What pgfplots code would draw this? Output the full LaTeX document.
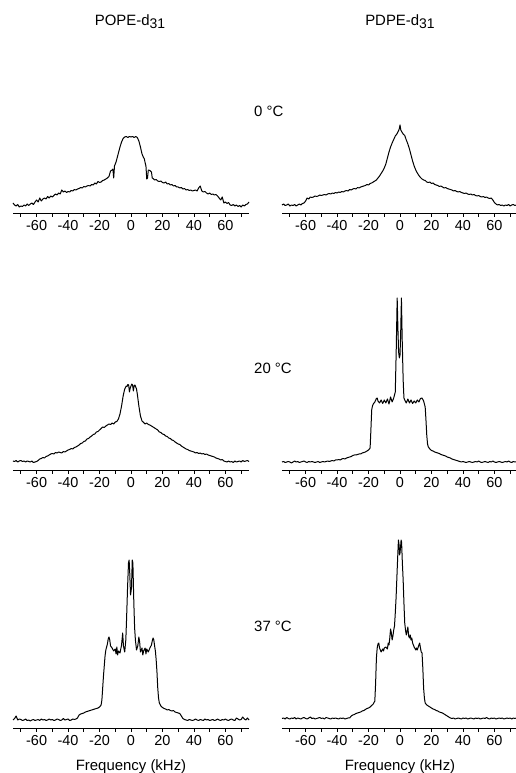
\documentclass[border=0pt]{standalone}
\usepackage{fontspec}
\setmainfont{Liberation Sans}
\usepackage{pgfplots}
\pgfplotsset{compat=1.18}
\pgfplotsset{
 spec/.style={
  scale only axis, width=236bp, height=200bp,
  xmin=-75, xmax=75, ymin=0, ymax=200,
  axis x line=bottom, axis y line=none,
  axis line style={-, line width=0.9bp, black},
  xtick={-60,-40,-20,0,20,40,60},
  xticklabels={-60,-40,-20,0,20,40,60},
  minor xtick={-70,-50,-30,-10,10,30,50,70},
  tick align=outside, major tick length=4bp, minor tick length=4bp,
  tick style={line width=0.8bp, black},
  xticklabel style={font=\fontsize{14.5}{17}\selectfont},
  clip=false, anchor=south west,
 },
 sp/.style={black, line width=1bp, no marks, line join=round},
}
\begin{document}
\begin{tikzpicture}
\path[use as bounding box] (0,0) rectangle (516bp,773bp);
% POPE 0 C
\begin{axis}[spec, at={(13bp,560bp)}]
\addplot[sp] coordinates {(-75,10)(-74,8)(-73,7)(-72,8.5)(-71,6)(-70,7)(-69,6.5)(-68,8)(-67,7)(-66,9)(-65,7.5)(-64,9)(-63,10)(-62,8.5)(-61,11)(-60,13)(-59,11)(-58,15)(-57,12)(-56,14)(-55,15)(-54,14)(-53,16.5)(-52,15)(-51,17)(-50,16)(-49,17.5)(-48,19)(-47,18)(-46,20)(-45,19)(-44,23)(-43,21)(-42,22)(-41,20.5)(-40,21.5)(-39,21)(-38,22.5)(-37,22)(-36,23.5)(-35,23)(-34,24)(-33,24.5)(-32,25.5)(-31,25)(-30,26.5)(-29,26)(-28,27)(-27,27.5)(-26,27)(-25,28.5)(-24,28)(-23,30)(-22,29)(-21,31.5)(-20,30.5)(-19,31)(-18,32.5)(-17,33)(-16,34)(-15,35)(-14,36.5)(-13,42)(-12,43)(-11.5,44)(-11,35)(-10.5,47)(-10,49)(-9.5,51)(-9,54)(-8.5,57)(-8,60)(-7,66)(-6,71)(-5,74.5)(-4,76)(-3,76.5)(-2,75.5)(-1,76.5)(0,76)(1,76.5)(2,75.5)(3,76.5)(4,75.5)(5,72)(6,66)(7,59)(7.8,56)(8.5,54)(9,50)(9.5,47)(10,34)(10.5,35)(11,43)(12,42.5)(13,41)(13.5,35)(14,34.5)(15,33)(16,33.5)(17,32)(18,31.5)(19,32)(20,30.5)(21,30)(22,31)(23,29)(24,29.5)(25,28)(26,28.5)(27,27)(28,27.5)(29,26)(30,26)(31,25)(32,25.5)(33,24)(34,24.5)(35,23)(36,23.5)(37,22.5)(38,23)(39,22)(40,22.5)(41,23)(42,22)(43,25)(44,27)(45,22)(46,21)(47,21.5)(48,20)(49,19)(50,20)(51,18.5)(52,19)(53,18)(54,18.5)(55,17)(56,15)(57,13)(58,16)(59,10)(60,11)(61,9.5)(62,10.5)(63,8)(64,7.5)(65,8.5)(66,7)(67,8)(68,6.5)(69,7.5)(70,6)(71,8)(72,7)(73,8.5)(74,9)(75,11)};
\end{axis}
% PDPE 0 C
\begin{axis}[spec, at={(282bp,560bp)}]
\addplot[sp] coordinates {(-75,8)(-74,9)(-73,7.5)(-72,8)(-71,9)(-70,7)(-69,8)(-68,7.5)(-67,8.5)(-66,7)(-65,8)(-64,9)(-63,8)(-62,9.5)(-61,10)(-60,12)(-59,15)(-58,14)(-57,16)(-56,15.5)(-55,16)(-54,17)(-53,16.5)(-52,17)(-51,18)(-50,17.5)(-49,18)(-48,18.5)(-47,18)(-46,19)(-45,19.5)(-44,19)(-43,20)(-42,19.5)(-41,20.5)(-40,20)(-39,21)(-38,20.5)(-37,21.5)(-36,21)(-35,22)(-34,22.5)(-33,22)(-32,23.5)(-31,23)(-30,24)(-29,24.5)(-28,24)(-27,25.5)(-26,25)(-25,26)(-24,26.5)(-23,27)(-22,27.5)(-21,28.5)(-20,28)(-19,29.5)(-18,30)(-17,31)(-16,32)(-15,33)(-14,35)(-13,37)(-12,39.5)(-11,42)(-10,45)(-9,49)(-8,55)(-7,61)(-6,66)(-5,70)(-4,73.5)(-3,77)(-2,79)(-1,82)(-0.5,84)(0,88)(0.5,83)(1,81.5)(2,79)(3,77.5)(4,73)(5,69)(6,64)(7,58)(8,52)(9,47)(10,43)(11,40)(12,37.5)(13,35.5)(14,34)(15,33)(16,32.5)(17,31)(18,30.5)(19,31)(20,29.5)(21,30)(22,28.5)(23,28)(24,27.5)(25,26.5)(26,27)(27,26)(28,25)(29,25.5)(30,24.5)(31,24)(32,23.5)(33,23)(34,22)(35,22.5)(36,21.5)(37,21)(38,21.5)(39,20.5)(40,20)(41,19.5)(42,20)(43,19)(44,18.5)(45,19)(46,18)(47,18.5)(48,17.5)(49,17)(50,17.5)(51,16.5)(52,16)(53,16.5)(54,15.5)(55,16)(56,15)(57,14.5)(58,15)(59,13)(60,10.5)(61,9)(62,8)(63,8.5)(64,7.5)(65,8)(66,7)(67,8)(68,7.5)(69,8.5)(70,7)(71,8)(72,8.5)(73,7.5)(74,8)(75,8)};
\end{axis}
% POPE 20 C
\begin{axis}[spec, at={(13bp,303bp)}]
\addplot[sp] coordinates {(-75,9)(-74,8.5)(-73,9.5)(-72,8)(-71,9)(-70,9.5)(-69,8.5)(-68,9)(-67,8)(-66,9)(-65,8.5)(-64,8)(-63,9)(-62,7.5)(-61,8)(-60,8.5)(-59,9.5)(-58,11)(-57,11.5)(-56,12.5)(-55,12)(-54,13.5)(-53,14)(-52,15)(-51,16)(-50,16.5)(-49,16)(-48,17.5)(-47,17)(-46,18)(-45,17.5)(-44,17)(-43,18.5)(-42,18)(-41,19)(-40,20)(-39,20.5)(-38,21.5)(-37,21)(-36,22.5)(-35,23)(-34,24)(-33,25)(-32,26.5)(-31,27)(-30,28.5)(-29,29)(-28,31)(-27,31.5)(-26,33)(-25,34)(-24,35.5)(-23,36)(-22,38)(-21,38.5)(-20,40)(-19,41.5)(-18,43)(-17,42.5)(-16,44)(-15,45)(-14,46)(-13,45.5)(-12,47)(-11,46)(-10,48)(-9,48.5)(-8,51)(-7,56)(-6,64)(-5,74)(-4,81)(-3,84)(-2.5,83.5)(-2,85.5)(-1.5,85)(-1,78)(-0.5,82)(0,84)(0.5,86)(1,85)(1.5,79)(2,84.5)(2.5,85)(3,83)(3.5,81)(4,76)(5,64)(6,54)(7,49)(8,47.5)(9,46)(10,47)(11,45.5)(12,45)(13,44)(14,43)(15,42)(16,41)(17,40)(18,38)(19,37.5)(20,36)(21,35.5)(22,34)(23,33.5)(24,32)(25,31.5)(26,30)(27,29.5)(28,28)(29,27)(30,26)(31,25.5)(32,24)(33,23)(34,22)(35,21)(36,20.5)(37,19.5)(38,19)(39,18.5)(40,18)(41,17)(42,17.5)(43,16.5)(44,17)(45,16)(46,16.5)(47,15.5)(48,16)(49,15)(50,14.5)(51,14)(52,13.5)(53,13)(54,12)(55,11.5)(56,11)(57,10)(58,10.5)(59,9)(60,8.5)(61,8)(62,9)(63,8)(64,8.5)(65,7.5)(66,9)(67,8)(68,8.5)(69,9)(70,8)(71,9.5)(72,8.5)(73,9)(74,9.5)(75,8.5)};
\end{axis}
% PDPE 20 C
\begin{axis}[spec, at={(282bp,303bp)}]
\addplot[sp] coordinates {(-75,8)(-74,8.5)(-73,7.5)(-72,8)(-71,8.5)(-70,8)(-69,7)(-68,8)(-67,9)(-66,8)(-65,8.5)(-64,7.5)(-63,8)(-62,8.5)(-61,9)(-60,8)(-59,7.5)(-58,8.5)(-57,8)(-56,8.5)(-55,8)(-54,7.5)(-53,8)(-52,8.5)(-51,7.5)(-50,8)(-49,8.5)(-48,8)(-47,8.5)(-46,9)(-45,8.5)(-44,9)(-43,9.5)(-42,9)(-41,10)(-40,10)(-39,10.5)(-38,10)(-37,11)(-36,11.5)(-35,11)(-34,12)(-33,12.5)(-32,13)(-31,13.5)(-30,14.5)(-29,15)(-28,15)(-27,15.5)(-26,16)(-25,16)(-24,17)(-23,17.5)(-22,18)(-21,19)(-20,20)(-19,22)(-18.5,40)(-18,60)(-17.5,64)(-17,66)(-16,68)(-15,71.5)(-14.5,72)(-14,69)(-13,67)(-12,70)(-11,66.5)(-10,70)(-9,67)(-8,71)(-7,66)(-6,73)(-5,68)(-4,72)(-3,78)(-2.4,120)(-1.8,172)(-1.3,140)(-0.9,118)(-0.4,112)(0,115)(0.4,135)(0.9,172)(1.4,130)(2,90)(2.5,72)(3,70)(4,67)(5,71)(6,67)(7,70)(8,66.5)(9,69)(10,67)(11,70)(12,68)(13,71.5)(14,72)(15,69)(16,63)(16.5,50)(17,35)(17.5,26)(18,23)(19,21)(20,19.5)(21,19)(22,18)(23,17.5)(24,17)(25,16.5)(26,15.5)(27,15)(28,14.5)(29,14)(30,13)(31,12.5)(32,12)(33,11)(34,10.5)(35,10)(36,9.5)(37,9)(38,8.5)(39,8)(40,8.5)(41,8)(42,7.5)(43,8)(44,8.5)(45,8)(46,7.5)(47,8)(48,8.5)(49,8)(50,9)(51,8)(52,7.5)(53,8)(54,8.5)(55,8)(56,7.5)(57,8.5)(58,8)(59,9)(60,8)(61,7.5)(62,8)(63,8.5)(64,8)(65,7.5)(66,8)(67,8.5)(68,8)(69,9)(70,8)(71,7.5)(72,8.5)(73,8)(74,8)(75,8.5)};
\end{axis}
% POPE 37 C
\begin{axis}[spec, at={(13bp,45bp)}]
\addplot[sp] coordinates {(-75,8)(-74,9.5)(-73,12)(-72,8)(-71,9)(-70,8.5)(-69,7.5)(-68,8)(-67,9)(-66,7.5)(-65,8)(-64,7)(-63,8)(-62,8.5)(-61,7.5)(-60,8)(-59,8.5)(-58,7.5)(-57,9)(-56,8)(-55,8.5)(-54,7.5)(-53,8)(-52,9)(-51,8)(-50,8.5)(-49,7.5)(-48,8)(-47,9)(-46,8.5)(-45,7.5)(-44,8)(-43,9.5)(-42,8)(-41,8.5)(-40,9)(-39,7.5)(-38,8)(-37,9)(-36,8.5)(-35,9)(-34,10)(-33,13)(-32,14)(-31,14.5)(-30,15)(-29,16)(-28,16.5)(-27,17)(-26,17.5)(-25,18)(-24,18.5)(-23,19)(-22,19.5)(-21,20)(-20,21)(-19,23)(-18.5,28)(-18,40)(-17.5,52)(-17,62)(-16.5,72)(-16,78)(-15,84)(-14.5,89)(-14,91)(-13.5,88)(-13,82)(-12,80)(-11,77)(-10,79)(-9.5,74)(-9,81)(-8.5,73)(-8,77)(-7,75)(-6,83)(-5.3,95)(-4.8,82)(-4,76)(-3.3,88)(-2.8,110)(-2.2,140)(-1.6,165)(-1.2,168)(-0.8,155)(-0.3,133)(0.3,140)(0.8,168)(1.2,165)(1.8,125)(2.3,100)(2.8,88)(3.5,78)(4.3,82)(5,91)(5.5,86)(6,76)(6.5,78)(7,80)(7.5,73)(8,77)(9,80)(9.5,74)(10,79)(11,76)(12,80)(13,83)(13.5,87)(14,90)(14.5,88)(15,82)(15.5,77)(16,68)(16.5,56)(17,40)(17.5,30)(18,25)(19,22)(20,20.5)(21,19.5)(22,19)(23,18)(24,18.5)(25,17.5)(26,17)(27,17.5)(28,16)(29,15.5)(30,15)(31,14.5)(32,12)(33,9.5)(34,8.5)(35,8)(36,7.5)(37,8.5)(38,8)(39,7.5)(40,8)(41,9)(42,8)(43,7.5)(44,8.5)(45,8)(46,7.5)(47,9)(48,8)(49,8.5)(50,7.5)(51,8)(52,8.5)(53,7.5)(54,8)(55,9)(56,8)(57,7.5)(58,8.5)(59,8)(60,9)(61,8)(62,7.5)(63,8.5)(64,9)(65,8)(66,7.5)(67,10)(68,9)(69,8)(70,8.5)(71,11)(72,9)(73,8)(74,10)(75,8)};
\end{axis}
% PDPE 37 C
\begin{axis}[spec, at={(282bp,45bp)}]
\addplot[sp] coordinates {(-75,9.5)(-74,10)(-73,9)(-72,10.5)(-71,9.5)(-70,9)(-69,10)(-68,9.5)(-67,10.5)(-66,9)(-65,10)(-64,9.5)(-63,9)(-62,10)(-61,10.5)(-60,9.5)(-59,9)(-58,10)(-57,11)(-56,9.5)(-55,10)(-54,9)(-53,9.5)(-52,10)(-51,10.5)(-50,9.5)(-49,10)(-48,9)(-47,10.5)(-46,10)(-45,9.5)(-44,9)(-43,10)(-42,9.5)(-41,10)(-40,9.5)(-39,9)(-38,10)(-37,9.5)(-36,10)(-35,9)(-34,9.5)(-33,10)(-32,10)(-31,12)(-30,13)(-29,13.5)(-28,14.5)(-27,15)(-26,15.5)(-25,16)(-24,17)(-23,17.5)(-22,18.5)(-21,19.5)(-20,20)(-19,21)(-18,22.5)(-17,24)(-16,27)(-15.5,45)(-15,70)(-14.5,80)(-14,84)(-13.5,85)(-13,80)(-12,76)(-11,79)(-10.5,77)(-10,80)(-9,81)(-8,79)(-7.5,85)(-7,83)(-6.5,90)(-6,99)(-5.5,95)(-5,88)(-4.5,92)(-4,98)(-3.5,102)(-3,115)(-2.5,130)(-2,150)(-1.5,170)(-1,188)(-0.6,183)(-0.3,173)(0,175)(0.3,180)(0.7,188)(1,186)(1.5,165)(2,148)(2.5,125)(3,105)(3.5,98)(4,93)(4.5,97)(5,101)(5.5,92)(6,90)(6.5,93)(7,88)(7.5,90)(8,85)(9,81)(10,78)(10.5,80)(11,78)(12,83)(12.5,85)(13,80)(13.5,76)(14,75)(14.5,60)(15,40)(15.5,30)(16,25)(17,23)(18,22)(19,21)(20,20)(21,19)(22,18.5)(23,17.5)(24,17)(25,16)(26,15.5)(27,15)(28,14)(29,13)(30,12)(31,11)(32,10)(33,9.5)(34,10)(35,9)(36,9.5)(37,10)(38,9.5)(39,9)(40,10)(41,9.5)(42,10)(43,9)(44,9.5)(45,10)(46,9.5)(47,9)(48,10)(49,9.5)(50,10)(51,9)(52,9.5)(53,10)(54,9.5)(55,10.5)(56,9.5)(57,9)(58,10)(59,9.5)(60,10)(61,9)(62,9.5)(63,10)(64,9.5)(65,10)(66,9)(67,9.5)(68,10)(69,9.5)(70,10)(71,9)(72,10)(73,9.5)(74,10)(75,9.5)};
\end{axis}
% texts
\tikzset{lab/.style={font=\fontsize{15}{18}\selectfont, inner sep=0pt}}
\node[lab, anchor=base] at (130bp,747bp) {POPE-d\raisebox{-2.5bp}{\fontsize{14}{14}\selectfont 31}};
\node[lab, anchor=base] at (400bp,747bp) {PDPE-d\raisebox{-2.5bp}{\fontsize{14}{14}\selectfont 31}};
\node[lab, anchor=base west] at (254bp,656bp) {0 °C};
\node[lab, anchor=base west] at (254bp,399bp) {20 °C};
\node[lab, anchor=base west] at (254bp,141bp) {37 °C};
\node[lab, anchor=base] at (131bp,3bp) {Frequency (kHz)};
\node[lab, anchor=base] at (400bp,3bp) {Frequency (kHz)};
\end{tikzpicture}
\end{document}
